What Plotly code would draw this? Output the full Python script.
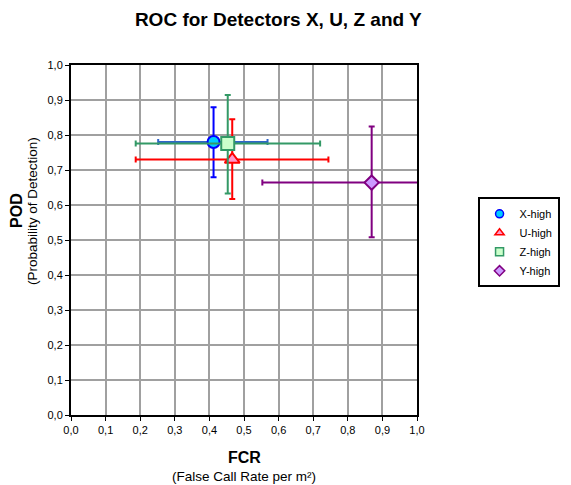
import plotly.graph_objs as go

# Detector results
detectors = ['X-high', 'U-high', 'Z-high', 'Y-high']
fcr = [0.412, 0.466, 0.453, 0.869]
fcr_low = [0.252, 0.187, 0.187, 0.553]
fcr_high = [0.568, 0.744, 0.720, 1.185]
pod = [0.780, 0.730, 0.776, 0.664]
pod_low = [0.679, 0.617, 0.633, 0.508]
pod_high = [0.879, 0.845, 0.914, 0.824]

tick_vals = [i / 10 for i in range(11)]
tick_text = ['0,0', '0,1', '0,2', '0,3', '0,4', '0,5', '0,6', '0,7', '0,8', '0,9', '1,0']

line_colors = ['#0000FF', '#FF0000', '#339966', '#800080']
xerr_colors = ['#2F64C8', '#FF0000', '#339966', '#800080']
fill_colors = ['#00CCFF', '#FF99CC', '#CCFFCC', '#CC99FF']
symbols = ['circle', 'triangle-up', 'square', 'diamond']
sizes = [12, 13, 13, 11]

data = []
for i, name in enumerate(detectors):
    data.append(go.Scatter(
        x=[fcr[i]], y=[pod[i]], name=name, mode='markers', showlegend=False,
        marker=dict(symbol=symbols[i], size=sizes[i], color=fill_colors[i],
                    line=dict(color=line_colors[i], width=2)),
        error_x=dict(type='data', symmetric=False,
                     array=[fcr_high[i] - fcr[i]], arrayminus=[fcr[i] - fcr_low[i]],
                     color=xerr_colors[i], thickness=2, width=3),
        error_y=dict(type='data', symmetric=False,
                     array=[pod_high[i] - pod[i]], arrayminus=[pod[i] - pod_low[i]],
                     color=line_colors[i], thickness=2, width=3),
    ))

# small legend-only entries (the original legend uses tiny symbols)
for i, name in enumerate(detectors):
    data.append(go.Scatter(
        x=[None], y=[None], name=name, mode='markers',
        marker=dict(symbol=symbols[i], size=8, color=fill_colors[i],
                    line=dict(color=line_colors[i], width=1.5)),
    ))

axis_style = dict(range=[0, 1], tickvals=tick_vals, ticktext=tick_text,
                  showgrid=True, gridcolor='#A0A0A0', gridwidth=1.5,
                  showline=True, linecolor='black', linewidth=2, mirror=True,
                  ticks='outside', ticklen=4, tickcolor='black', zeroline=False,
                  tickfont=dict(size=11, color='black'))

# axis titles as annotations so the two lines can be placed like the original
titles = [
    dict(text='<b>FCR</b>', x=0.5, y=0, yshift=-42, size=16, angle=0),
    dict(text='(False Call Rate per m²)', x=0.5, y=0, yshift=-61, size=13.5, angle=0),
    dict(text='<b>POD</b>', x=0, y=0.583, xshift=-54, size=16, angle=-90),
    dict(text='(Probability of Detection)', x=0, y=0.583, xshift=-38, size=13.5, angle=-90),
]
annotations = [dict(text=t['text'], x=t['x'], y=t['y'], xref='paper', yref='paper',
                    xanchor='center', yanchor='middle', showarrow=False,
                    xshift=t.get('xshift', 0), yshift=t.get('yshift', 0),
                    textangle=t['angle'], font=dict(size=t['size']))
               for t in titles]

layout = go.Layout(
    width=571, height=485,
    font=dict(family='Liberation Sans, Arial', color='black'),
    title=dict(text='<b>ROC for Detectors X, U, Z and Y</b>', xref='container',
               x=0.4734, xanchor='center', yref='container', y=0.977,
               yanchor='middle', font=dict(size=19)),
    paper_bgcolor='white', plot_bgcolor='white',
    margin=dict(l=63, r=162, t=57, b=78),
    xaxis=axis_style,
    yaxis=axis_style,
    annotations=annotations,
    legend=dict(x=1.175, y=0.622, xanchor='left', yanchor='top',
                bordercolor='black', borderwidth=2, bgcolor='white',
                font=dict(size=11), itemwidth=30, tracegroupgap=0),
    showlegend=True,
)

fig = go.Figure(data=data, layout=layout)
fig.write_html('out.html')
